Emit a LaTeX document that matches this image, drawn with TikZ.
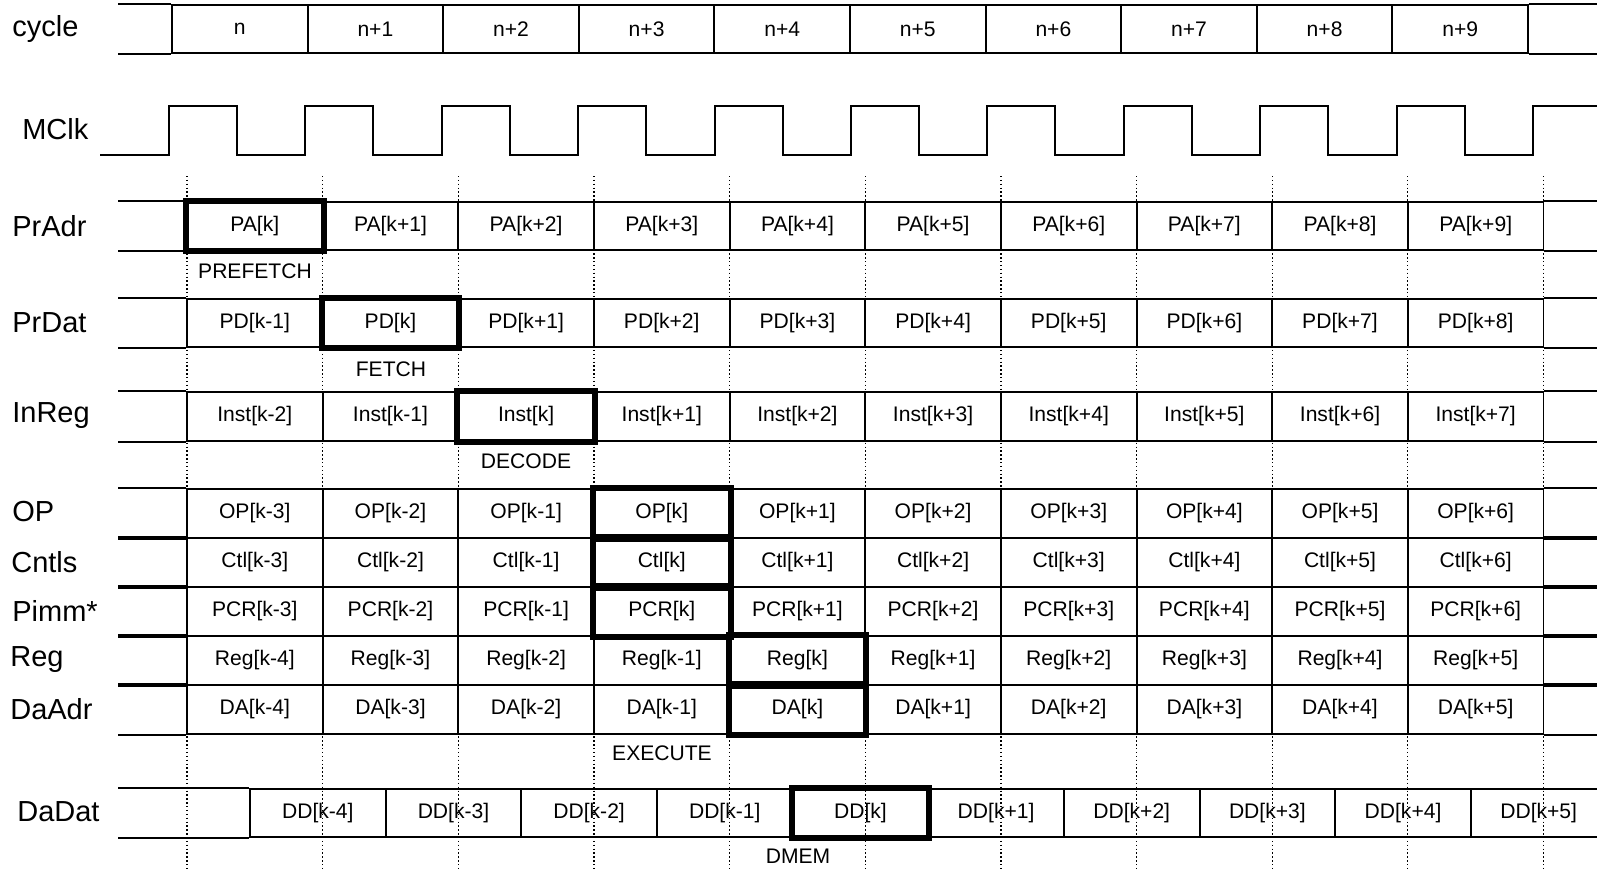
\documentclass[tikz,border=0pt]{standalone}
\usepackage{fontspec}
\setmainfont{Liberation Sans}
\usetikzlibrary{positioning}

% index k, k+j or k-j
\newcommand{\kidx}[1]{\ifnum#1=0 k\else\ifnum#1>0 k+#1\else k#1\fi\fi}
% lead-in and lead-out lines of a row of cells
\newcommand{\leads}[1]{\draw[sig] (lft |- #10.north) -- (#10.north west)
  (lft |- #10.south) -- (#10.south west)
  (#19.north east) -- (rgt |- #19.north) (#19.south east) -- (rgt |- #19.south);}
% bus row: name, centre y, text, first index, left x of first cell
\newcommand{\busrow}[5]{%
  \foreach \i [evaluate=\i as \j using int(\i+(#4))] in {0,...,9}
    \node[cell] (#1\i) at ({#5+67.825+135.65*\i},#2) {#3[\kidx{\j}]};
  \leads{#1}}

\begin{document}
\begin{tikzpicture}[x=0.02cm,y=-0.02cm,
  sig/.style={line width=1.1pt},
  cell/.style={draw,line width=1.1pt,minimum width=2.713cm,minimum height=0.97cm,
    inner sep=0pt,font=\fontsize{12}{14}\selectfont},
  hot/.style={line width=3.4pt},
  lab/.style={anchor=west,inner sep=0pt,font=\fontsize{16.5}{19}\selectfont},
  stage/.style={inner sep=0pt,font=\fontsize{12}{14}\selectfont},
  guide/.style={line width=0.7pt,dash pattern=on 0.8pt off 1.4pt}]
  \useasboundingbox (0,0) rectangle (1597,869);
  \clip (0,0) rectangle (1597,869);
  \coordinate (lft) at (118,0);
  \coordinate (rgt) at (1597,0);

  % cycle boundaries (dotted)
  \foreach \i in {0,...,10}
    \draw[guide] ({187+135.65*\i},176) -- ({187+135.65*\i},869);

  % cycle numbers
  \foreach \i in {0,...,9}
    \node[cell] (cy\i) at ({239.8+135.6*\i},29) {n\ifnum\i>0 +\i\fi};
  \leads{cy}

  % memory clock
  \draw[sig] (100,155) \foreach \i in {0,...,9}{
      -- ({169+136.4*\i},155) -- ({169+136.4*\i},106)
      -- ({237+136.4*\i},106) -- ({237+136.4*\i},155) }
    -- (1533,155) -- (1533,106) -- (1597,106);

  % pipeline registers
  \busrow{pa}{226}{PA}{0}{187}
  \busrow{pd}{323}{PD}{-1}{187}
  \busrow{in}{416.5}{Inst}{-2}{187}
  \busrow{op}{513.5}{OP}{-3}{187}
  \busrow{ct}{562.5}{Ctl}{-3}{187}
  \busrow{pc}{611.5}{PCR}{-3}{187}
  \busrow{rg}{660.5}{Reg}{-4}{187}
  \busrow{da}{709.5}{DA}{-4}{187}
  \busrow{dd}{813}{DD}{-4}{250}

  % instruction k through the stages
  \foreach \c in {pa0,pd1,in2,op3,ct3,pc3,rg4,da4,dd4}
    \draw[hot] (\c.north west) rectangle (\c.south east);

  \node[stage] (prefetch) at (255,271) {PREFETCH};
  \node[stage] (fetch) at (391,369) {FETCH};
  \node[stage] (decode) at (526,461) {DECODE};
  \node[stage] (execute) at (662,753) {EXECUTE};
  \node[stage] (dmem) at (798,856) {DMEM};

  % signal names
  \node[lab] (lcycle) at (12,29) {cycle};
  \node[lab] (lmclk) at (22,129) {MClk};
  \node[lab] (lpradr) at (12,226) {PrAdr};
  \node[lab] (lprdat) at (12,323) {PrDat};
  \node[lab] (linreg) at (12,416) {InReg};
  \node[lab] (lop) at (12,512) {OP};
  \node[lab] (lcntls) at (11,562) {Cntls};
  \node[lab] (lpimm) at (12,611) {Pimm*};
  \node[lab] (lreg) at (10,660) {Reg};
  \node[lab] (ldaadr) at (10,709) {DaAdr};
  \node[lab] (ldadat) at (17,812) {DaDat};
\end{tikzpicture}
\end{document}
